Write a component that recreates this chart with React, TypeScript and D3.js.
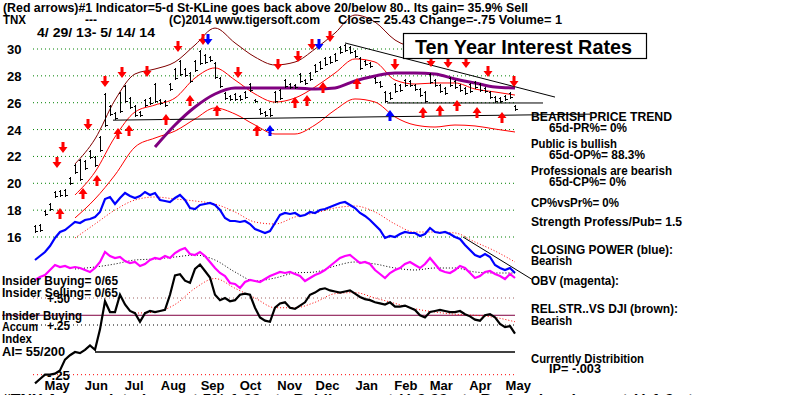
import React from 'react';
import * as d3 from 'd3';

// ---------- DATA ----------
const START_DATE = new Date(2013, 3, 29);
const END_DATE = new Date(2014, 4, 14);
const PRICE_TICKS = [16, 18, 20, 22, 24, 26, 28, 30];
const MONTHS = ['May', 'Jun', 'Jul', 'Aug', 'Sep', 'Oct', 'Nov', 'Dec', 'Jan', 'Feb', 'Mar', 'Apr', 'May'];
const MONTH_DATES = [
  new Date(2013, 4, 15), new Date(2013, 5, 15), new Date(2013, 6, 15), new Date(2013, 7, 15),
  new Date(2013, 8, 15), new Date(2013, 9, 15), new Date(2013, 10, 15), new Date(2013, 11, 15),
  new Date(2014, 0, 15), new Date(2014, 1, 15), new Date(2014, 2, 15), new Date(2014, 3, 15),
  new Date(2014, 4, 15),
];

// price bars (TNX x10), sampled every ~3 trading days
const HI = [16.9, 17.0, 18.0, 18.5, 19.4, 19.5, 19.6, 20.5, 21.4, 21.8,
  21.7, 22.5, 22.0, 23.5, 26.7, 25.8, 25.3, 26.8, 27.3, 26.4,
  25.8, 25.4, 26.3, 26.4, 27.5, 26.3, 26.2, 27.5, 28.6, 29.2,
  28.6, 28.3, 29.2, 29.9, 29.6, 29.5, 29.0, 27.9, 26.8, 26.6,
  26.7, 26.6, 26.9, 27.5, 26.3, 25.6, 25.4, 25.6, 26.9, 27.0,
  27.8, 27.5, 27.4, 28.2, 27.8, 28.3, 28.9, 29.1, 29.4, 29.5,
  29.7, 30.2, 30.4, 30.2, 29.9, 29.4, 29.2, 29.0, 27.9, 27.6,
  26.9, 26.8, 27.5, 27.4, 27.8, 27.7, 27.4, 27.1, 26.9, 28.2,
  27.8, 27.4, 27.2, 27.9, 27.7, 27.4, 27.2, 27.5, 27.6, 27.5,
  27.2, 26.9, 26.5, 26.4, 26.6, 26.8, 25.8];
const LO = [16.3, 16.4, 17.6, 17.9, 18.9, 19.0, 19.0, 19.9, 20.7, 20.2,
  21.0, 21.8, 21.2, 22.3, 24.2, 25.0, 24.7, 25.2, 26.0, 25.5,
  24.9, 24.9, 25.7, 25.8, 26.0, 25.8, 25.7, 26.9, 27.7, 28.0,
  27.9, 27.5, 28.3, 28.8, 28.9, 29.0, 27.8, 27.1, 26.2, 26.1,
  26.1, 26.1, 26.3, 26.8, 26.0, 25.1, 24.9, 24.9, 26.0, 26.2,
  27.1, 27.0, 27.0, 27.5, 27.3, 27.6, 28.2, 28.4, 28.7, 28.9,
  29.0, 29.6, 29.8, 29.6, 29.3, 28.4, 28.7, 28.6, 27.4, 27.1,
  26.0, 26.2, 26.7, 26.8, 27.2, 27.2, 26.9, 26.4, 26.0, 27.4,
  27.2, 26.7, 26.6, 27.2, 27.0, 26.8, 26.6, 26.7, 27.0, 26.8,
  26.7, 26.3, 26.0, 26.0, 26.1, 26.3, 25.4];

// bands & moving averages, every 4th sample
const BAND_START = 8;
const UPPER_OUTER = [21.44, 23.30, 26.20, 28.14, 28.51, 29.03, 30.30, 31.56, 30.45, 29.40, 28.81, 29.03,
  30.0, 31.19, 32.53, 32.01, 30.67, 30.07, 29.78, 29.70, 29.70, 29.78, 29.93];
const UPPER_BAND = [19.13, 20.84, 23.45, 25.31, 25.83, 26.35, 27.84, 28.59, 27.69, 26.65, 26.05, 26.35,
  27.17, 28.21, 29.26, 29.03, 27.69, 27.39, 27.47, 27.47, 27.02, 26.80, 26.57];
const LOWER_BAND = [17.42, 18.83, 20.62, 22.70, 23.37, 23.89, 24.79, 25.61, 25.16, 24.34, 23.67, 23.67,
  24.34, 25.46, 26.28, 26.05, 24.94, 24.34, 24.19, 24.34, 24.27, 24.04, 23.82];
const MA_START = 24;
const MA_PURPLE = [22.70, 24.34, 25.68, 26.65, 27.10, 27.10, 27.10, 27.10, 27.02, 27.10, 27.62, 27.99,
  28.21, 28.21, 28.14, 27.77, 27.47, 27.17, 27.10];

// trend / support lines [sampleIndex, price]
const SUPPORT_LOW = [[15.6, 24.7], [111, 25.15]];
const SUPPORT_MID = [[70.4, 25.98], [101.6, 25.98]];
const DOWNTREND = [[62, 30.45], [104, 26.42]];

// signal arrows [sampleIndex, price]
const RED_DOWN = [[4.4, 21.51], [5.6, 22.63], [10.6, 24.34], [14, 27.54], [17.4, 28.21], [22.4, 28.29],
  [28.6, 30.15], [33.6, 30.67], [40.6, 28.21], [48.6, 28.81], [52.6, 29.40], [55.4, 30.30], [59, 30.89],
  [72, 28.81], [79.2, 29.03], [82.6, 28.96], [86.2, 28.96], [90.6, 28.29], [95.8, 27.54]];
const BLUE_DOWN = [[34.6, 30.67], [56.8, 30.30]];
const RED_UP = [[5, 17.79], [9.6, 19.28], [12.4, 20.25], [16.6, 23.75], [18.8, 23.97], [26.2, 24.79],
  [31, 26.20], [36.4, 25.46], [44.4, 23.97], [52, 26.05], [54.4, 26.20], [57.6, 27.17], [64.4, 27.47],
  [77.6, 25.31], [81, 25.46], [84.4, 25.83], [88.4, 25.31], [93.4, 24.94]];
const BLUE_UP = [[47, 23.97], [71, 25.09]];

// Closing Power (blue) and its MA
const CP = [20, 24, 28, 34, 42, 48, 50, 54, 58, 57,
  60, 61, 63, 68, 81, 83, 76, 82, 87, 84,
  82, 84, 88, 85, 87, 80, 79, 78, 82, 85,
  80, 72, 71, 75, 76, 77, 75, 70, 62, 59,
  59, 58, 59, 56, 51, 49, 47, 49, 57, 65,
  67, 66, 67, 64, 65, 68, 67, 70, 71, 73,
  75, 77, 78, 75, 72, 67, 64, 60, 55, 50,
  42, 44, 43, 46, 48, 47, 47, 44, 46, 52,
  48, 47, 48, 46, 43, 41, 35, 30, 25, 23,
  26, 23, 15, 12, 10, 12, 7];
const CP_MA = [42, 56, 70, 80, 83, 81, 79, 76, 68, 58, 56, 63, 67, 72, 74, 68, 56, 48, 48, 47, 38, 29, 18];
const CP_TREND = [[85.6, 43], [99.6, 0]];

// OBV (magenta) and its MA
const OBV = [20, 23, 25, 30, 35, 33, 34, 32, 33, 32,
  30, 28, 32, 38, 48, 44, 42, 43, 39, 37,
  38, 34, 36, 40, 42, 41, 44, 42, 47, 50,
  52, 46, 45, 48, 44, 38, 32, 27, 24, 17,
  16, 12, 18, 20, 19, 18, 21, 24, 26, 28,
  27, 28, 26, 24, 19, 22, 25, 27, 30, 34,
  38, 42, 44, 45, 41, 37, 38, 36, 30, 26,
  22, 27, 30, 32, 36, 38, 35, 32, 36, 42,
  36, 30, 28, 27, 30, 34, 32, 27, 22, 24,
  28, 29, 26, 24, 21, 26, 22];
const OBV_MA = [31, 33, 36, 40, 41, 43, 45, 40, 28, 19, 22, 27, 28, 34, 38, 36, 32, 30, 32, 32, 28, 27, 27];

// Accumulation Index (black) and its MA
const AI = [-0.29, -0.25, -0.21, -0.21, -0.20, -0.17, -0.07, -0.03, 0.00, -0.01,
  0.02, 0.06, 0.02, 0.21, 0.47, 0.37, 0.37, 0.53, 0.44, 0.38,
  0.36, 0.28, 0.36, 0.38, 0.37, 0.38, 0.39, 0.53, 0.71, 0.72,
  0.66, 0.64, 0.77, 0.81, 0.75, 0.69, 0.53, 0.48, 0.50, 0.47,
  0.48, 0.53, 0.54, 0.53, 0.41, 0.32, 0.29, 0.28, 0.41, 0.45,
  0.46, 0.41, 0.40, 0.43, 0.46, 0.53, 0.55, 0.58, 0.59, 0.57,
  0.56, 0.55, 0.56, 0.57, 0.54, 0.51, 0.49, 0.48, 0.46, 0.45,
  0.44, 0.46, 0.42, 0.42, 0.43, 0.41, 0.39, 0.34, 0.32, 0.37,
  0.38, 0.39, 0.38, 0.37, 0.37, 0.38, 0.35, 0.33, 0.30, 0.29,
  0.34, 0.35, 0.32, 0.26, 0.23, 0.24, 0.17];
const AI_MA_START = 20;
const AI_MA = [0.36, 0.37, 0.44, 0.59, 0.68, 0.59, 0.50, 0.41, 0.41, 0.46, 0.54, 0.55, 0.50, 0.45, 0.40,
  0.37, 0.35, 0.34, 0.32, 0.28];
const AI_LEVELS = [0.5, 0.25, 0, -0.21];
const AI_LEVEL_LABELS = ['+.50', '+.25', '', '-.25'];
const INSIDER_LEVEL = 0.34;

const FONT = "'Liberation Sans', Arial, Helvetica, sans-serif";

type P = [number, number];

export default function App() {
  const xI = d3.scaleLinear().domain([0, HI.length - 1]).range([35, 515]);
  const xT = d3.scaleTime().domain([START_DATE, END_DATE]).range([35, 515]);
  const yP = d3.scaleLinear().domain([16, 30]).range([237, 49]);
  const yCP = d3.scaleLinear().domain([0, 100]).range([280, 180]);
  const yOBV = d3.scaleLinear().domain([0, 100]).range([300, 200]);
  const yAI = d3.scaleLinear().domain([0, 0.5]).range([352, 298]);

  const every = (vals: number[], start: number, step: number): P[] => vals.map((v, k) => [start + step * k, v]);
  const lineFor = (ys: d3.ScaleLinear<number, number>, curve: d3.CurveFactory = d3.curveLinear) =>
    d3.line<P>().x(d => xI(d[0])).y(d => ys(d[1])).curve(curve);

  const smoothP = lineFor(yP, d3.curveMonotoneX);
  const straightP = lineFor(yP);

  const downArrow = (x: number, y: number) =>
    `M${x - 1.5},${y - 6}h3v5h3l-4.5,6l-4.5,-6h3z`;
  const upArrow = (x: number, y: number) =>
    `M${x - 1.5},${y + 6}h3v-5h3l-4.5,-6l-4.5,6h3z`;

  const T = (props: any) => (
    <text fontFamily={FONT} fontWeight="bold" fontSize={12} fill="#000" {...props} />
  );

  return (
    <svg width={800} height={395} style={{ position: 'absolute', left: 0, top: 0, background: '#fff' }}>
      <rect x={0} y={0} width={800} height={395} fill="#fff" />

      {/* price grid */}
      {PRICE_TICKS.map(t => (
        <g key={t}>
          <line x1={33} x2={515} y1={yP(t)} y2={yP(t)} stroke="#008000" strokeDasharray="1,3" />
          <T x={7} y={yP(t) + 5} fontSize={13}>{t}</T>
        </g>
      ))}

      {/* bands */}
      <path d={smoothP(every(UPPER_OUTER, BAND_START, 4))!} fill="none" stroke="#800000" strokeWidth={1} />
      <path d={smoothP(every(UPPER_BAND, BAND_START, 4))!} fill="none" stroke="#ff0000" strokeWidth={1} />
      <path d={smoothP(every(LOWER_BAND, BAND_START, 4))!} fill="none" stroke="#ff0000" strokeWidth={1} />
      <path d={smoothP(every(MA_PURPLE, MA_START, 4))!} fill="none" stroke="#800080" strokeWidth={3} />

      {/* trend lines */}
      <path d={straightP(SUPPORT_LOW as P[])!} fill="none" stroke="#000" strokeWidth={1} />
      <path d={straightP(SUPPORT_MID as P[])!} fill="none" stroke="#000" strokeWidth={1} />
      <path d={straightP(DOWNTREND as P[])!} fill="none" stroke="#000" strokeWidth={1} />

      {/* price bars */}
      {HI.map((h, i) => (
        <g key={i} stroke="#000" strokeWidth={1} shapeRendering="crispEdges">
          <line x1={Math.round(xI(i)) + 0.5} x2={Math.round(xI(i)) + 0.5} y1={yP(h)} y2={yP(LO[i])} />
          <line x1={Math.round(xI(i)) - 1.5} x2={Math.round(xI(i)) + 0.5} y1={Math.round(yP(h)) + 1.5} y2={Math.round(yP(h)) + 1.5} />
          <line x1={Math.round(xI(i)) + 0.5} x2={Math.round(xI(i)) + 2.5} y1={Math.round(yP(LO[i])) - 1.5} y2={Math.round(yP(LO[i])) - 1.5} />
        </g>
      ))}

      {/* arrows */}
      {RED_DOWN.map(([i, v], k) => <path key={'rd' + k} d={downArrow(xI(i), yP(v))} fill="#ff0000" />)}
      {BLUE_DOWN.map(([i, v], k) => <path key={'bd' + k} d={downArrow(xI(i), yP(v))} fill="#0000ff" />)}
      {RED_UP.map(([i, v], k) => <path key={'ru' + k} d={upArrow(xI(i), yP(v))} fill="#ff0000" />)}
      {BLUE_UP.map(([i, v], k) => <path key={'bu' + k} d={upArrow(xI(i), yP(v))} fill="#0000ff" />)}

      {/* closing power */}
      <path d={lineFor(yCP, d3.curveMonotoneX)(every(CP_MA, BAND_START, 4))!} fill="none" stroke="#ff0000" strokeDasharray="1,2" />
      <path d={lineFor(yCP)(every(CP, 0, 1))!} fill="none" stroke="#0000ff" strokeWidth={2.2} />
      <path d={lineFor(yCP)(CP_TREND as P[])!} fill="none" stroke="#000" strokeWidth={1} />

      {/* OBV */}
      <path d={lineFor(yOBV, d3.curveMonotoneX)(every(OBV_MA, BAND_START, 4))!} fill="none" stroke="#000" strokeDasharray="1,2" />
      <path d={lineFor(yOBV)(every(OBV, 0, 1))!} fill="none" stroke="#ff00ff" strokeWidth={2.2} />

      {/* AI panel */}
      {AI_LEVELS.map((v, k) => (
        <line key={'lvl' + k} x1={k === 2 ? 95 : 33} x2={515} y1={yAI(v)} y2={yAI(v)}
          stroke={k === 0 ? '#a06060' : k === 1 ? '#000' : k === 2 ? '#000' : '#ff0000'}
          strokeWidth={k === 2 ? 1.5 : 1}
          strokeDasharray={k === 2 ? undefined : '1,3'} />
      ))}
      <line x1={2} x2={515} y1={yAI(INSIDER_LEVEL)} y2={yAI(INSIDER_LEVEL)} stroke="#800040" strokeWidth={1} />
      <path d={lineFor(yAI, d3.curveMonotoneX)(every(AI_MA, AI_MA_START, 4))!} fill="none" stroke="#ff0000" strokeDasharray="1,2" />
      <path d={lineFor(yAI)(every(AI, 0, 1))!} fill="none" stroke="#000" strokeWidth={2.2} />

      {/* header text */}
      <T x={3} y={12} textLength={525} lengthAdjust="spacingAndGlyphs">
        (Red arrows)#1 Indicator=5-d St-KLine goes back above 20/below 80.. Its gain= 35.9% Sell
      </T>
      <T x={3} y={24} textLength={23} lengthAdjust="spacingAndGlyphs">TNX</T>
      <T x={85} y={24}>---</T>
      <T x={169} y={24} textLength={151} lengthAdjust="spacingAndGlyphs">(C)2014 www.tigersoft.com</T>
      <T x={338} y={24} textLength={224} lengthAdjust="spacingAndGlyphs">Close= 25.43  Change=-.75 Volume= 1</T>
      <T x={37} y={37} textLength={118} lengthAdjust="spacingAndGlyphs">4/ 29/ 13- 5/ 14/ 14</T>

      {/* title box */}
      <rect x={403.5} y={33.5} width={243} height={25} fill="#fff" stroke="#000" strokeWidth={1.2} />
      <T x={415} y={54} fontSize={21} textLength={217} lengthAdjust="spacingAndGlyphs">Ten Year Interest Rates</T>

      {/* right notes */}
      <T x={531} y={121} textLength={141} lengthAdjust="spacingAndGlyphs">BEARISH PRICE TREND</T>
      <T x={549} y={132} textLength={78} lengthAdjust="spacingAndGlyphs">65d-PR%= 0%</T>
      <T x={531} y={148} textLength={86} lengthAdjust="spacingAndGlyphs">Public is bullish</T>
      <T x={549} y={159} textLength={96} lengthAdjust="spacingAndGlyphs">65d-OP%= 88.3%</T>
      <T x={531} y={175} textLength={141} lengthAdjust="spacingAndGlyphs">Professionals are bearish</T>
      <T x={549} y={186} textLength={77} lengthAdjust="spacingAndGlyphs">65d-CP%= 0%</T>
      <T x={531} y={207} textLength={88} lengthAdjust="spacingAndGlyphs">CP%vsPr%=  0%</T>
      <T x={531} y={226} textLength={151} lengthAdjust="spacingAndGlyphs">Strength Profess/Pub= 1.5</T>
      <T x={531} y={254} textLength={142} lengthAdjust="spacingAndGlyphs">CLOSING POWER (blue):</T>
      <T x={531} y={265} textLength={41} lengthAdjust="spacingAndGlyphs">Bearish</T>
      <T x={531} y={285} textLength={88} lengthAdjust="spacingAndGlyphs">OBV (magenta):</T>
      <T x={531} y={313} textLength={147} lengthAdjust="spacingAndGlyphs">REL.STR..VS DJI (brown):</T>
      <T x={531} y={325} textLength={41} lengthAdjust="spacingAndGlyphs">Bearish</T>
      <T x={531} y={363} textLength={113} lengthAdjust="spacingAndGlyphs">Currently Distribition</T>
      <T x={549} y={373} textLength={52} lengthAdjust="spacingAndGlyphs">IP= -.003</T>

      {/* left notes */}
      <T x={2} y={285} textLength={116} lengthAdjust="spacingAndGlyphs">Insider Buying= 0/65</T>
      <T x={2} y={297} textLength={116} lengthAdjust="spacingAndGlyphs">Insider Selling= 0/65</T>
      {AI_LEVELS.map((v, k) => AI_LEVEL_LABELS[k] ? (
        <T key={'ll' + k} x={47} y={yAI(v) + 5} textLength={23} lengthAdjust="spacingAndGlyphs">{AI_LEVEL_LABELS[k]}</T>
      ) : null)}
      <T x={2} y={320} textLength={80} lengthAdjust="spacingAndGlyphs">Insider Buying</T>
      <T x={2} y={331} textLength={36} lengthAdjust="spacingAndGlyphs">Accum</T>
      <T x={2} y={343} textLength={30} lengthAdjust="spacingAndGlyphs">Index</T>
      <T x={2} y={356} textLength={63} lengthAdjust="spacingAndGlyphs">AI= 55/200</T>

      {/* month labels */}
      {MONTHS.map((m, k) => (
        <T key={'m' + k} x={xT(MONTH_DATES[k]) + 2} y={390} fontSize={13} textAnchor="middle">{m}</T>
      ))}

      {/* bottom (cut-off) line */}
      <T x={2} y={403} textLength={700} lengthAdjust="spacingAndGlyphs">
        #TNX  Accumulated  up pct  5%   1.00  pts   Public  up pct (  )  0.00  pts   Professional  up pct (  )  1.0  pts
      </T>
    </svg>
  );
}
